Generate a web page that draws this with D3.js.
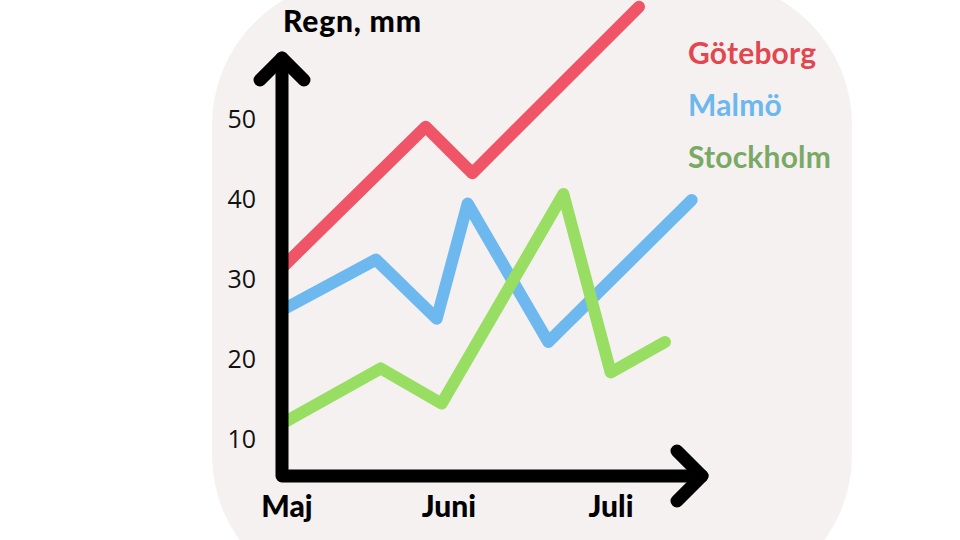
<!DOCTYPE html>
<html><head><meta charset="utf-8">
<script src="https://cdn.jsdelivr.net/npm/d3@7"></script>
<style>html,body{margin:0;padding:0;background:#fff;}svg{display:block;}</style>
</head><body>
<svg id="chart" width="960" height="540"></svg>
<script>
// Data (x = position in months, Maj = 0, Juni = 1, Juli = 2; y = rain in mm)
const months = ["Maj", "Juni", "Juli"];
const yTicks = [10, 20, 30, 40, 50];
const seriesNames = ["Göteborg", "Malmö", "Stockholm"];
const goteborgX = [-0.03, 0.856, 1.144, 2.173];
const goteborgY = [31.3, 48.9, 43.1, 63.9];
const malmoX = [-0.03, 0.549, 0.924, 1.115, 1.613, 2.498];
const malmoY = [26.0, 32.3, 24.9, 39.3, 22.0, 39.75];
const stockholmX = [-0.03, 0.578, 0.955, 1.706, 1.998, 2.333];
const stockholmY = [11.8, 18.7, 14.3, 40.5, 18.2, 22.0];
const lineColors = ["#f05567", "#6db8ee", "#98de62"];
const legendColors = ["#e2464f", "#6bb7ee", "#7aa966"];

const svg = d3.select("#chart");
const x = d3.scaleLinear().domain([0, 2]).range([287, 611]);
const y = d3.scaleLinear().domain([0, 50]).range([518, 118]);

// background panel
svg.append("rect").attr("x", 212).attr("y", -20).attr("width", 640).attr("height", 620)
  .attr("rx", 145).attr("fill", "#f5f1f0");

const series = [
  {name: seriesNames[0], xs: goteborgX, ys: goteborgY},
  {name: seriesNames[1], xs: malmoX, ys: malmoY},
  {name: seriesNames[2], xs: stockholmX, ys: stockholmY}
];
const line = d3.line().x(d => x(d[0])).y(d => y(d[1]));
series.forEach((s, i) => {
  svg.append("path").datum(d3.zip(s.xs, s.ys)).attr("d", line)
    .attr("fill", "none").attr("stroke", lineColors[i]).attr("stroke-width", 12)
    .attr("stroke-linejoin", "round").attr("stroke-linecap", "round");
});

// axes
const ax = 282, ay = 476, topY = 58, rightX = 702, arm = 25;
const axisStyle = p => p.attr("fill", "none").attr("stroke", "#000").attr("stroke-width", 13)
  .attr("stroke-linejoin", "round").attr("stroke-linecap", "round");
svg.append("path").attr("d", `M${ax},${topY}L${ax},${ay}L${rightX},${ay}`).call(axisStyle);
svg.append("path").attr("d", `M${ax-arm+3},${topY+arm-3}L${ax},${topY}L${ax+arm-3},${topY+arm-3}`).call(axisStyle);
svg.append("path").attr("d", `M${rightX-arm},${ay-arm}L${rightX},${ay}L${rightX-arm},${ay+arm}`).call(axisStyle);

// y tick labels
svg.append("g").selectAll("text").data(yTicks).join("text")
  .attr("x", 256).attr("y", d => y(d)).attr("text-anchor", "end").attr("dominant-baseline", "central")
  .attr("font-family", "Open Sans").attr("font-size", 25).attr("fill", "#111").text(d => d);

// x labels
svg.append("g").selectAll("text").data(months).join("text")
  .attr("x", (d, i) => x(i)).attr("y", 517).attr("text-anchor", "middle")
  .attr("font-family", "Lato").attr("font-weight", 900).attr("font-size", 30).attr("fill", "#000").text(d => d);

// title
svg.append("text").attr("x", 283).attr("y", 32).attr("font-family", "Lato").attr("font-weight", 900)
  .attr("font-size", 30).attr("letter-spacing", 0.8).attr("fill", "#000").text("Regn, mm");

// legend
svg.append("g").selectAll("text").data(seriesNames).join("text")
  .attr("x", 688).attr("y", (d, i) => 64 + i * 52)
  .attr("font-family", "Lato").attr("font-weight", 700).attr("font-size", 30)
  .attr("letter-spacing", 0.2)
  .attr("fill", (d, i) => legendColors[i]).text(d => d);
</script>
</body></html>
